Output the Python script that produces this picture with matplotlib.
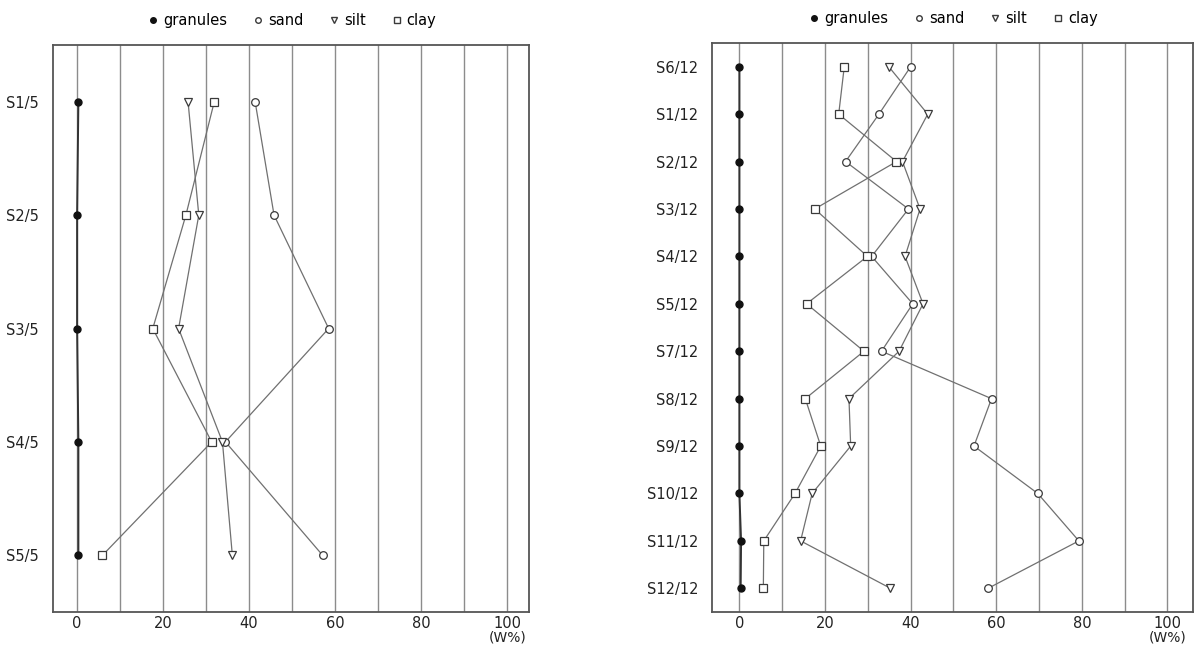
import matplotlib
matplotlib.use("Agg")
import matplotlib.pyplot as plt
from matplotlib.lines import Line2D
import matplotlib.transforms as mtransforms

# left panel: 5 samples
samples_a = ["S1/5", "S2/5", "S3/5", "S4/5", "S5/5"]
granules_a = [0.3, 0.0, 0.0, 0.3, 0.3]
sand_a = [41.4, 45.8, 58.5, 34.5, 57.1]
silt_a = [25.8, 28.3, 23.6, 33.8, 36.1]
clay_a = [31.9, 25.3, 17.6, 31.3, 5.9]

# right panel: 12 samples
samples_b = ["S6/12", "S1/12", "S2/12", "S3/12", "S4/12", "S5/12",
             "S7/12", "S8/12", "S9/12", "S10/12", "S11/12", "S12/12"]
granules_b = [0.0, 0.0, 0.0, 0.0, 0.0, 0.0, 0.0, 0.0, 0.0, 0.0, 0.4, 0.3]
sand_b = [40.0, 32.6, 24.8, 39.5, 30.9, 40.5, 33.2, 58.9, 54.8, 69.7, 79.3, 58.1]
silt_b = [34.9, 44.0, 38.1, 42.2, 38.7, 42.9, 37.3, 25.6, 26.0, 17.0, 14.3, 35.3]
clay_b = [24.5, 23.2, 36.7, 17.6, 29.9, 15.7, 29.1, 15.4, 19.0, 13.0, 5.7, 5.6]

xticks = [0, 20, 40, 60, 80, 100]
series_names = ["granules", "sand", "silt", "clay"]

line_c = "#707070"
edge_c = "#3a3a3a"


def draw_panel(ax, samples, granules, sand, silt, clay, xlim):
    y = list(range(len(samples)))
    for gx in range(0, 101, 10):
        ax.axvline(gx, color="#8c8c8c", lw=1.0, zorder=0)
    ax.plot(granules, y, color="#333333", lw=1.4, marker="o", ms=5,
            mfc="#111111", mec="#111111", zorder=3)
    ax.plot(sand, y, color=line_c, lw=0.9, marker="o", ms=5.5,
            mfc="white", mec=edge_c, mew=0.9, zorder=3)
    ax.plot(silt, y, color=line_c, lw=0.9, marker="v", ms=5.5,
            mfc="white", mec=edge_c, mew=0.9, zorder=3)
    ax.plot(clay, y, color=line_c, lw=0.9, marker="s", ms=5.5,
            mfc="white", mec=edge_c, mew=0.9, zorder=3)

    ax.set_xlim(*xlim)
    ax.set_ylim(len(samples) - 0.5, -0.5)
    ax.set_yticks(y)
    ax.set_yticklabels(samples)
    ax.set_xticks(xticks)
    ax.set_xticklabels([str(t) for t in xticks])
    ax.tick_params(axis="y", length=0, labelsize=10.5, colors="#222222", pad=10)
    ax.tick_params(axis="x", length=0, labelsize=10.5, colors="#222222", pad=3)
    for sp in ax.spines.values():
        sp.set_color("#555555")
        sp.set_linewidth(1.3)

    trans = mtransforms.blended_transform_factory(ax.transData, ax.transAxes)
    ax.text(100, -0.045, "(W%)", transform=trans, ha="center", va="center",
            fontsize=10, color="#222222")

    handles = [
        Line2D([], [], ls="none", marker="o", ms=4, mfc="#111111", mec="#111111"),
        Line2D([], [], ls="none", marker="o", ms=4, mfc="white", mec=edge_c),
        Line2D([], [], ls="none", marker="v", ms=4, mfc="white", mec=edge_c),
        Line2D([], [], ls="none", marker="s", ms=4, mfc="white", mec=edge_c),
    ]
    ax.legend(handles, series_names, loc="lower center",
              bbox_to_anchor=(0.5, 1.02), ncol=4, frameon=False,
              fontsize=10.5, handletextpad=0.2, columnspacing=1.6,
              handlelength=1.0, borderaxespad=0)


fig = plt.figure(figsize=(11.94, 6.46), dpi=100)
ax1 = fig.add_axes([0.0444, 0.0526, 0.3987, 0.8777])
ax2 = fig.add_axes([0.5963, 0.0526, 0.4030, 0.8808])

draw_panel(ax1, samples_a, granules_a, sand_a, silt_a, clay_a, (-5.6, 105.1))
draw_panel(ax2, samples_b, granules_b, sand_b, silt_b, clay_b, (-6.4, 106.0))

fig.savefig("out.png", dpi=100)
